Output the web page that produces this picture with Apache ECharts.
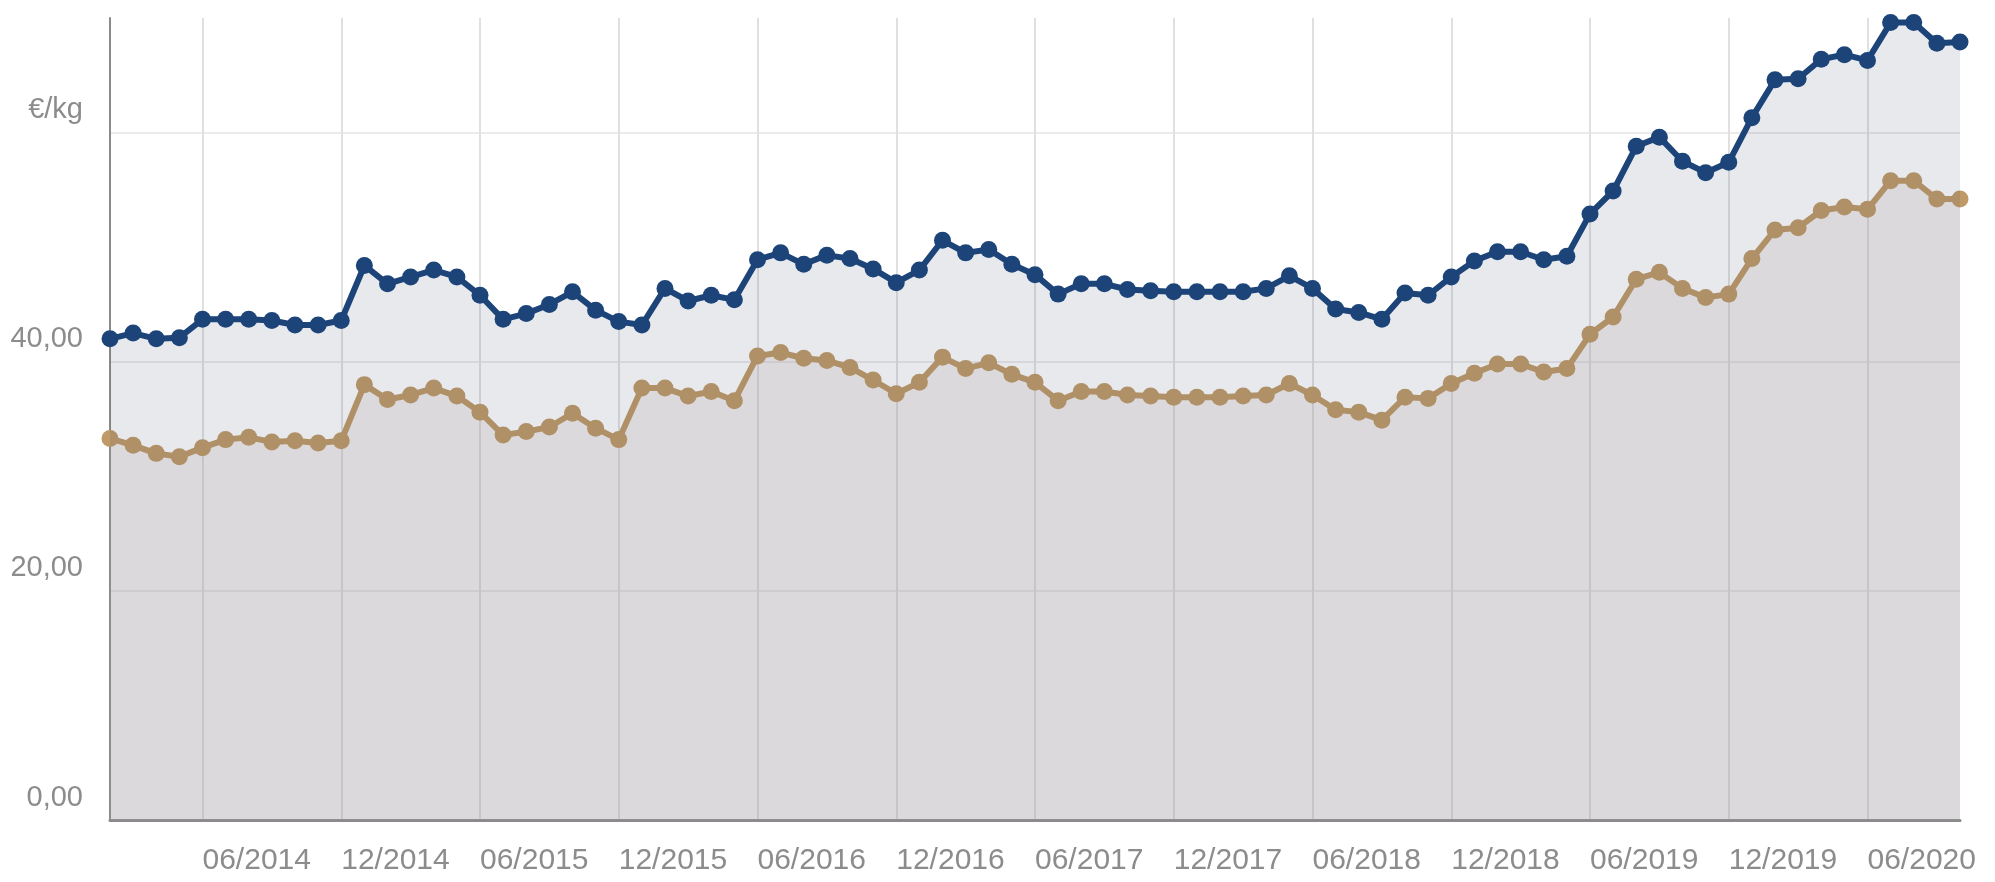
<!DOCTYPE html>
<html>
<head>
<meta charset="utf-8">
<script src="https://cdn.jsdelivr.net/npm/echarts@6/dist/echarts.min.js"></script>
<style>
html,body{margin:0;padding:0;background:#fff;}
#chart{width:1995px;height:882px;}
</style>
</head>
<body>
<div id="chart"></div>
<script>
const months = [
"02/2014","03/2014","04/2014","05/2014","06/2014","07/2014","08/2014","09/2014","10/2014","11/2014","12/2014",
"01/2015","02/2015","03/2015","04/2015","05/2015","06/2015","07/2015","08/2015","09/2015","10/2015","11/2015","12/2015",
"01/2016","02/2016","03/2016","04/2016","05/2016","06/2016","07/2016","08/2016","09/2016","10/2016","11/2016","12/2016",
"01/2017","02/2017","03/2017","04/2017","05/2017","06/2017","07/2017","08/2017","09/2017","10/2017","11/2017","12/2017",
"01/2018","02/2018","03/2018","04/2018","05/2018","06/2018","07/2018","08/2018","09/2018","10/2018","11/2018","12/2018",
"01/2019","02/2019","03/2019","04/2019","05/2019","06/2019","07/2019","08/2019","09/2019","10/2019","11/2019","12/2019",
"01/2020","02/2020","03/2020","04/2020","05/2020","06/2020","07/2020","08/2020","09/2020","10/2020"
];
const upperPrice = [
42.0,42.5,42.0,42.1,43.7,43.7,43.7,43.6,43.2,43.2,43.6,
48.4,46.8,47.4,48.0,47.4,45.8,43.7,44.2,45.0,46.1,44.5,43.5,
43.2,46.4,45.3,45.8,45.4,48.9,49.5,48.5,49.3,49.0,48.1,46.9,
48.0,50.6,49.5,49.8,48.5,47.6,45.9,46.8,46.8,46.3,46.2,46.1,
46.1,46.1,46.1,46.4,47.5,46.4,44.6,44.3,43.7,46.0,45.8,47.4,
48.8,49.6,49.6,48.9,49.2,52.9,54.9,58.8,59.6,57.5,56.5,57.4,
61.3,64.6,64.7,66.4,66.8,66.3,69.6,69.6,67.8,67.9
];
const lowerPrice = [
33.3,32.7,32.0,31.7,32.5,33.2,33.4,33.0,33.1,32.9,33.1,
38.0,36.7,37.1,37.7,37.0,35.6,33.6,33.9,34.3,35.5,34.2,33.2,
37.7,37.7,37.0,37.4,36.6,40.5,40.8,40.3,40.1,39.5,38.4,37.2,
38.2,40.4,39.4,39.9,38.9,38.2,36.6,37.4,37.4,37.1,37.0,36.9,
36.9,36.9,37.0,37.1,38.1,37.1,35.8,35.6,34.9,36.9,36.8,38.1,
39.0,39.8,39.8,39.1,39.4,42.4,43.9,47.2,47.8,46.4,45.6,45.9,
49.0,51.5,51.7,53.2,53.5,53.3,55.8,55.8,54.2,54.2
];
const unitLabel = "€/kg";
const yTicks = [0, 20, 40, 60];

const FONT = "'Liberation Sans',Arial,sans-serif";
const labelMonth = (idx, val) => val.startsWith("06/") || val.startsWith("12/");

const chart = echarts.init(document.getElementById('chart'), null, {renderer:'canvas'});
chart.setOption({
  animation: false,
  backgroundColor: '#ffffff',
  grid: {left: 110, right: 35, top: 18, bottom: 62, containLabel: false, outerBoundsMode: 'none'},
  xAxis: {
    type: 'category',
    data: months,
    boundaryGap: false,
    axisLine: {show: true, lineStyle: {color: '#8a8a8a', width: 3}},
    axisTick: {show: false},
    axisLabel: {
      interval: labelMonth, align: 'left',
      color: '#8c8c8c', fontFamily: FONT, fontSize: 30, margin: 26
    },
    splitLine: {show: true, interval: labelMonth, lineStyle: {color: '#e0e0e0', width: 2}}
  },
  yAxis: {
    type: 'value',
    min: 0, max: 70, interval: 20,
    axisLine: {show: true, lineStyle: {color: '#8a8a8a', width: 2}},
    axisTick: {show: false},
    axisLabel: {
      color: '#8c8c8c', fontFamily: FONT, fontSize: 29, margin: 27,
      verticalAlign: 'bottom', padding: [0, 0, 8, 0],
      formatter: v => {
        if (v === 60) return unitLabel;
        if (yTicks.indexOf(v) < 0) return '';
        return v.toFixed(2).replace('.', ',');
      }
    },
    splitLine: {show: true, lineStyle: {color: ['#ebebeb','#ebebeb','#ebebeb','#ebebeb','rgba(0,0,0,0)'], width: 2}}
  },
  series: [
    {
      name: 'upper', type: 'line', data: upperPrice,
      symbol: 'circle', symbolSize: 17, showAllSymbol: true,
      lineStyle: {color: '#1c4479', width: 6},
      itemStyle: {color: '#1c4479'},
      areaStyle: {color: 'rgba(60,80,115,0.18)', origin: 'start'},
      z: 3
    },
    {
      name: 'lower', type: 'line', data: lowerPrice,
      symbol: 'circle', symbolSize: 17, showAllSymbol: true,
      lineStyle: {color: '#c09a66', width: 6},
      itemStyle: {color: '#c09a66'},
      areaStyle: {color: 'rgba(208,192,183,0.4)', origin: 'start'},
      z: 2
    }
  ]
});
</script>
</body>
</html>
